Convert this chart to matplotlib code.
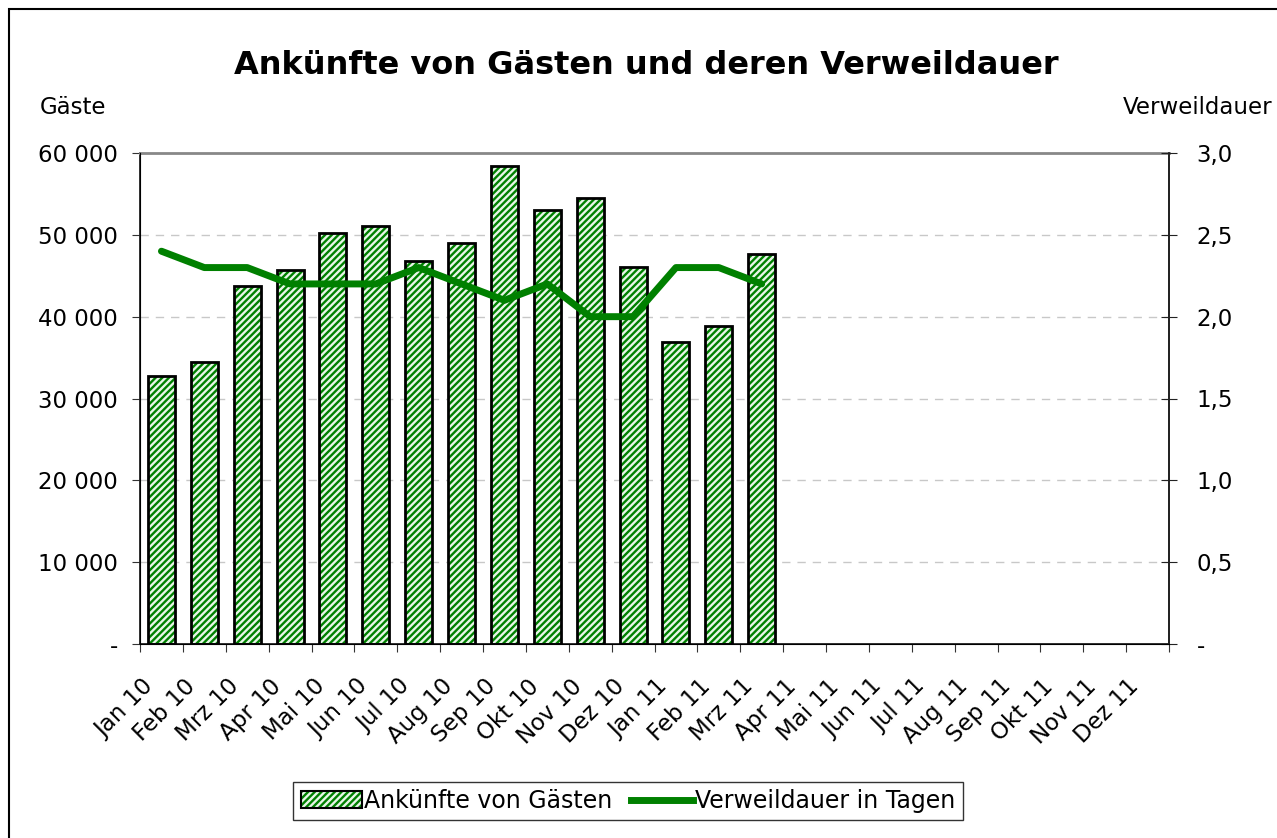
import matplotlib.pyplot as plt
import matplotlib.patches as mpatches
import matplotlib.lines as mlines
import matplotlib.transforms as mtransforms
import numpy as np

# Data
months = ['Jan 10', 'Feb 10', 'Mrz 10', 'Apr 10', 'Mai 10', 'Jun 10', 'Jul 10', 'Aug 10',
          'Sep 10', 'Okt 10', 'Nov 10', 'Dez 10', 'Jan 11', 'Feb 11', 'Mrz 11', 'Apr 11',
          'Mai 11', 'Jun 11', 'Jul 11', 'Aug 11', 'Sep 11', 'Okt 11', 'Nov 11', 'Dez 11']
arrivals = [32700, 34500, 43700, 45700, 50200, 51100, 46800, 49000,
            58400, 53000, 54500, 46100, 36900, 38900, 47600]
stay_days = [2.4, 2.3, 2.3, 2.2, 2.2, 2.2, 2.3, 2.2,
             2.1, 2.2, 2.0, 2.0, 2.3, 2.3, 2.2]
left_ticks = [0, 10000, 20000, 30000, 40000, 50000, 60000]
left_labels = ['-', '10 000', '20 000', '30 000', '40 000', '50 000', '60 000']
right_ticks = [0, 0.5, 1.0, 1.5, 2.0, 2.5, 3.0]
right_labels = ['-', '0,5', '1,0', '1,5', '2,0', '2,5', '3,0']

green = '#008000'
light = '#e8f6e8'
plt.rcParams['hatch.linewidth'] = 1.7
plt.rcParams['font.family'] = 'DejaVu Sans'

fig = plt.figure(figsize=(12.77, 8.38), dpi=100)
ax = fig.add_axes([140/1277, 1 - 644/838, 1029/1277, 491/838])

# outer frame of the chart object
fig.patches.append(mpatches.Rectangle((9/1277, -0.05), 1.2, 1 - 9/838 + 0.05,
                                      transform=fig.transFigure, fill=False,
                                      edgecolor='black', linewidth=1.5))

x = np.arange(len(arrivals))
ax.bar(x, arrivals, width=0.63, color=light, edgecolor=green, hatch='/////',
       linewidth=0, zorder=2)
ax.bar(x, arrivals, width=0.63, fill=False, edgecolor='black', linewidth=2, zorder=3)

ax.set_xlim(-0.5, len(months) - 0.5)
ax.set_ylim(0, 60000)
ax.set_yticks(left_ticks)
ax.set_yticklabels(left_labels, fontsize=16.5)
ax.set_xticks(np.arange(len(months) + 1) - 0.5, minor=False)
ax.set_xticklabels([])
ax.set_xticks(np.arange(len(months)), minor=True)
ax.set_xticklabels(months, minor=True, rotation=45, ha='right', va='center',
                   rotation_mode='anchor', fontsize=16.5)
ax.tick_params(axis='x', which='minor', length=0, pad=28)
ax.tick_params(axis='x', which='major', length=6, direction='out', color='#333333')
ax.tick_params(axis='y', length=6, direction='out', color='#333333', pad=10)
shift = mtransforms.ScaledTranslation(-12/100, 0, fig.dpi_scale_trans)
for lbl in ax.get_xticklabels(minor=True):
    lbl.set_transform(lbl.get_transform() + shift)

for v in left_ticks[1:-1]:
    ax.axhline(v, color='#c8c8c8', linestyle=(0, (6, 5)), linewidth=1, zorder=1)

for side in ['left', 'bottom', 'right']:
    ax.spines[side].set_color('#222222')
    ax.spines[side].set_linewidth(1.3)
ax.spines['top'].set_color('#888888')
ax.spines['top'].set_linewidth(2)

ax2 = ax.twinx()
ax2.plot(x, stay_days, color=green, linewidth=5, solid_capstyle='round', zorder=4)
ax2.set_ylim(0, 3.0)
ax2.set_yticks(right_ticks)
ax2.set_yticklabels(right_labels, fontsize=16.5)
ax2.tick_params(axis='y', length=11.5, direction='inout', color='#222222', pad=14)
ax2.spines['right'].set_color('#222222')
ax2.spines['right'].set_linewidth(1.3)
ax2.spines['top'].set_visible(False)

fig.text(646/1277, 1 - 65/838, 'Ankünfte von Gästen und deren Verweildauer', ha='center',
         va='center', fontsize=23, fontweight='bold')
fig.text(40/1277, 1 - 108/838, 'Gäste', ha='left', va='center', fontsize=16.5)
fig.text(1272/1277, 1 - 108/838, 'Verweildauer', ha='right', va='center', fontsize=16.5)

bar_handle = mpatches.Patch(facecolor=light, edgecolor=green, hatch='/////', linewidth=0)
edge_handle = mpatches.Patch(fill=False, edgecolor='black', linewidth=1.5)
line_handle = mlines.Line2D([], [], color=green, linewidth=5)
leg = fig.legend([(bar_handle, edge_handle), line_handle],
                 ['Ankünfte von Gästen', 'Verweildauer in Tagen'],
                 loc='center', bbox_to_anchor=(628/1277, 1 - 801/838), ncol=2,
                 fontsize=17, frameon=True, fancybox=False, edgecolor='black',
                 handlelength=2.6, handletextpad=0.1, columnspacing=0.8,
                 borderpad=0.3)
leg.get_frame().set_linewidth(1)

fig.savefig('out.png', dpi=100)
